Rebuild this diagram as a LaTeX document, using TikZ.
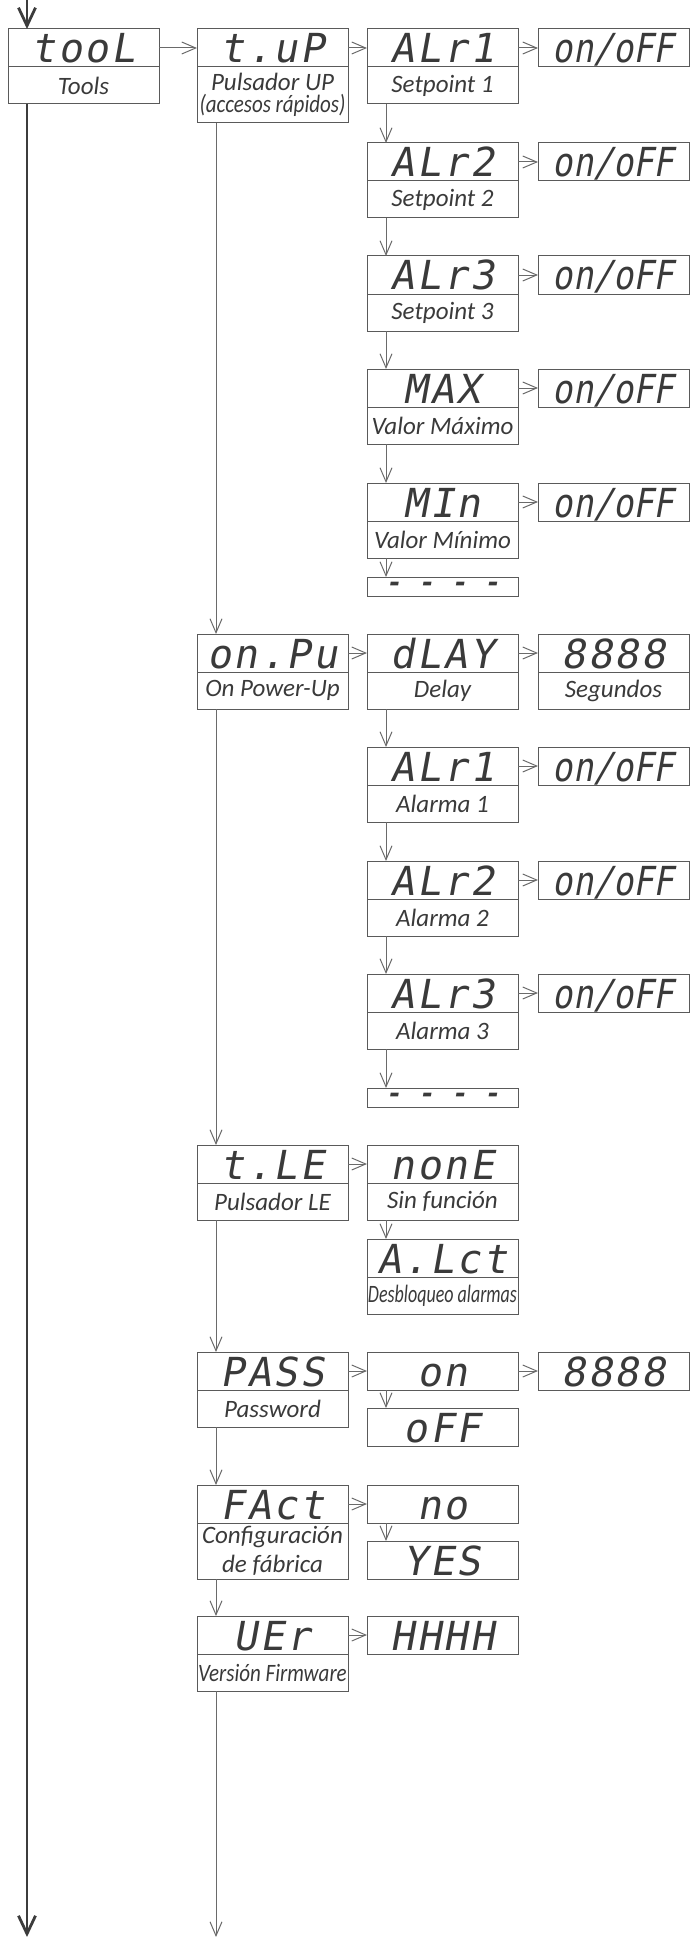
\documentclass[tikz,border=0pt]{standalone}
\usepackage{fontspec}
\usepackage{graphicx}
\setmainfont{Carlito}
\newfontfamily\segfont[FakeSlant=0.18,LetterSpace=6]{DejaVu Sans Mono}
\newfontfamily\segnarrow[FakeSlant=0.18,FakeStretch=0.84]{DejaVu Sans Mono}
\usetikzlibrary{
arrows.meta,
positioning
}
\definecolor{edge}{HTML}{5A5A5A}
\definecolor{ink}{HTML}{3A3A3A}
\definecolor{wire}{HTML}{6A6A6A}
\definecolor{trunk}{HTML}{3C3C3C}

\begin{document}
\begin{tikzpicture}[
    x=0.5pt, y=-0.5pt,
    >={Straight Barb[length=7pt,width=6pt]},
    base/.style={draw=edge, line width=0.5pt, inner sep=0pt, outer sep=0pt,
      minimum width=75.5pt, text=ink},
    disp/.style={base, anchor=north west, minimum height=19pt,
      text height=15pt, text depth=0pt, font=\fontsize{20}{20}\segfont},
    wide/.style={font=\fontsize{20}{20}\segnarrow},
    blank/.style={base, anchor=north west, minimum height=9.5pt,
      text height=4.5pt, text depth=-2.5pt, font=\fontsize{13}{13}\segfont\bfseries},
    desc/.style={base, anchor=north, minimum height=18.5pt, align=center,
      font=\fontsize{12.5}{13}\selectfont\itshape},
    link/.style={->, draw=wire, line width=0.5pt},
    main/.style={draw=trunk, line width=1.4pt, -{Straight Barb[length=9pt,width=8.5pt]}}]
  \useasboundingbox (0,0) rectangle (691,1937);

  % root
  \node[disp] (tool) at (8,29) {tooL};
  \node[desc, below=0pt of tool] (tool-d) {Tools};

  % quick access key
  \node[disp] (tup) at (197,29) {t.uP};
  \node[desc, below=0pt of tup, minimum height=28pt,
    font=\fontsize{12.5}{11}\selectfont\itshape] (tup-d)
    {Pulsador UP\\\scalebox{0.84}[1]{(accesos rápidos)}};

  \node[disp] (alr1) at (367,29) {ALr1};
  \node[desc, below=0pt of alr1] (alr1-d) {Setpoint 1};
  \node[disp, wide] (alr1-v) at (538,29) {on/oFF};
  \node[disp] (alr2) at (367,143) {ALr2};
  \node[desc, below=0pt of alr2] (alr2-d) {Setpoint 2};
  \node[disp, wide] (alr2-v) at (538,143) {on/oFF};
  \node[disp] (alr3) at (367,256) {ALr3};
  \node[desc, below=0pt of alr3] (alr3-d) {Setpoint 3};
  \node[disp, wide] (alr3-v) at (538,256) {on/oFF};
  \node[disp] (maxv) at (367,369) {MAX};
  \node[desc, below=0pt of maxv] (maxv-d) {Valor Máximo};
  \node[disp, wide] (maxv-v) at (538,369) {on/oFF};
  \node[disp] (minv) at (367,483) {MIn};
  \node[desc, below=0pt of minv] (minv-d) {Valor Mínimo};
  \node[disp, wide] (minv-v) at (538,483) {on/oFF};
  \node[blank] (end-a) at (367,577) {- - - -};

  % power-up
  \node[disp] (onpu) at (197,634) {on.Pu};
  \node[desc, below=0pt of onpu] (onpu-d) {On Power-Up};
  \node[disp] (dly) at (367,634) {dLAY};
  \node[desc, below=0pt of dly] (dly-d) {Delay};
  \node[disp] (secs) at (538,634) {8888};
  \node[desc, below=0pt of secs] (secs-d) {Segundos};

  \node[disp] (al1) at (367,747) {ALr1};
  \node[desc, below=0pt of al1] (al1-d) {Alarma 1};
  \node[disp, wide] (al1-v) at (538,747) {on/oFF};
  \node[disp] (al2) at (367,861) {ALr2};
  \node[desc, below=0pt of al2] (al2-d) {Alarma 2};
  \node[disp, wide] (al2-v) at (538,861) {on/oFF};
  \node[disp] (al3) at (367,974) {ALr3};
  \node[desc, below=0pt of al3] (al3-d) {Alarma 3};
  \node[disp, wide] (al3-v) at (538,974) {on/oFF};
  \node[blank] (end-b) at (367,1088) {- - - -};

  % LE key
  \node[disp] (tle) at (197,1145) {t.LE};
  \node[desc, below=0pt of tle] (tle-d) {Pulsador LE};
  \node[disp] (none) at (367,1145) {nonE};
  \node[desc, below=0pt of none] (none-d) {Sin función};
  \node[disp] (alct) at (367,1239) {A.Lct};
  \node[desc, below=0pt of alct] (alct-d) {\scalebox{0.72}[1]{Desbloqueo alarmas}};

  % password
  \node[disp] (pass) at (197,1352) {PASS};
  \node[desc, below=0pt of pass] (pass-d) {Password};
  \node[disp] (pon) at (367,1352) {on};
  \node[disp] (ppin) at (538,1352) {8888};
  \node[disp] (poff) at (367,1408) {oFF};

  % factory settings
  \node[disp] (fact) at (197,1485) {FAct};
  \node[desc, below=0pt of fact, minimum height=28pt,
    font=\fontsize{12.5}{14.5}\selectfont\itshape] (fact-d)
    {Configuración\\de fábrica};
  \node[disp] (fno) at (367,1485) {no};
  \node[disp] (fyes) at (367,1541) {YES};

  % firmware
  \node[disp] (ver) at (197,1616) {UEr};
  \node[desc, below=0pt of ver] (ver-d) {\scalebox{0.84}[1]{Versión Firmware}};
  \node[disp] (hhhh) at (367,1616) {HHHH};

  \coordinate (in) at (27,0);
  \coordinate (out-a) at (27,1937);
  \coordinate (out-b) at (216,1937);

  % trunk
  \draw[main] (in) -- (in |- tool.north);
  \draw[main] (in |- tool-d.south) -- (out-a);

  % across
  \draw[link] (tool) -- (tup);
  \draw[link] (tup) -- (alr1);
  \foreach \n in {alr1,alr2,alr3,maxv,minv,al1,al2,al3}
    \draw[link] (\n) -- (\n-v);
  \draw[link] (onpu) -- (dly);
  \draw[link] (dly) -- (secs);
  \draw[link] (tle) -- (none);
  \draw[link] (pass) -- (pon);
  \draw[link] (pon) -- (ppin);
  \draw[link] (fact) -- (fno);
  \draw[link] (ver) -- (hhhh);

  % down
  \foreach \a/\b in {tup-d/onpu,onpu-d/tle,tle-d/pass,pass-d/fact,fact-d/ver,
      alr1-d/alr2,alr2-d/alr3,alr3-d/maxv,maxv-d/minv,minv-d/end-a,
      dly-d/al1,al1-d/al2,al2-d/al3,al3-d/end-b,
      none-d/alct,pon/poff,fno/fyes}
    \draw[link] ([xshift=9.5pt]\a.south west) -- ([xshift=9.5pt]\b.north west);
  \draw[link] ([xshift=9.5pt]ver-d.south west) -- (out-b);
\end{tikzpicture}
\end{document}
